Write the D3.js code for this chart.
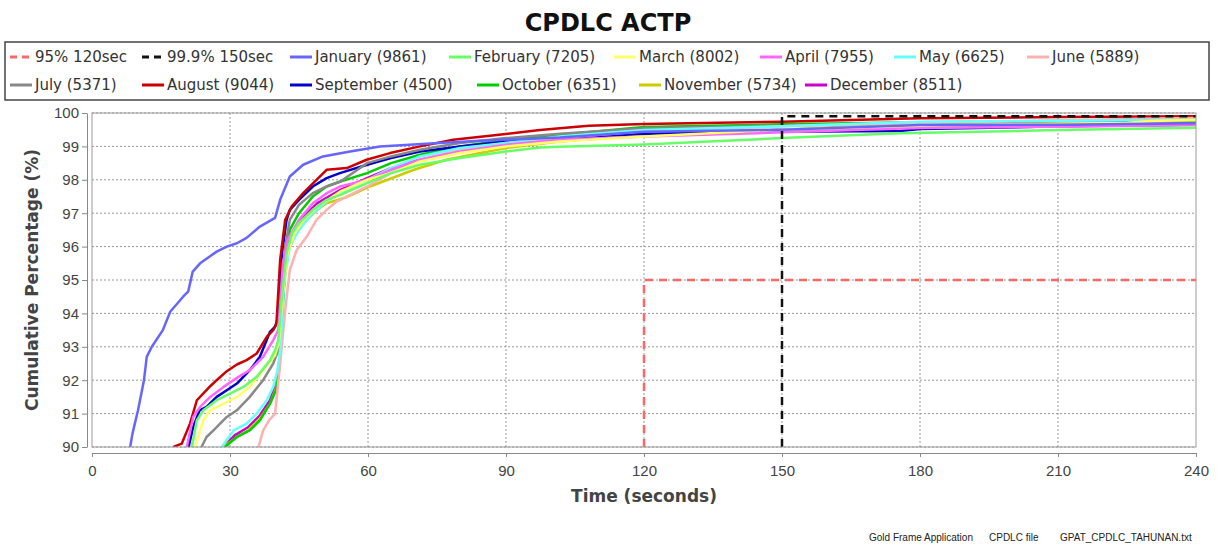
<!DOCTYPE html>
<html lang="en">
<head>
<meta charset="UTF-8">
<title>CPDLC ACTP</title>
<script src="https://cdn.jsdelivr.net/npm/d3@7/dist/d3.min.js"></script>
<style>
  body { margin: 0; background: #fff; }
  svg { font-family: "DejaVu Sans", sans-serif; }
  .tick text { fill: #444; font-size: 15px; }
  .axis path, .axis line { stroke: #888; }
  .grid line { stroke: #999; stroke-dasharray: 2,2; }
</style>
</head>
<body>
<svg id="chart" width="1217" height="546"></svg>
<script>
// cumulative curves, [seconds, percent]
const january = [[8.3,90],[8.8,90.4],[10,91.1],[11.3,92.0],[11.9,92.7],[13,93.0],[15.4,93.5],[17,94.05],[19.8,94.5],[20.9,94.65],[21.9,95.25],[23.5,95.5],[27.1,95.85],[29.3,96.0],[31.5,96.1],[33.6,96.26],[36.5,96.6],[39.8,96.86],[40.9,97.4],[43,98.1],[45.9,98.45],[50.2,98.7],[56.1,98.85],[62.6,99.0],[73.5,99.09],[84.3,99.17],[91.5,99.21],[101.7,99.27],[120,99.44],[150,99.5],[180,99.64],[210,99.65],[240,99.69]];
const february = [[21.7,90],[22.8,90.8],[24.2,91.1],[27.1,91.4],[30,91.6],[32.9,91.8],[35.8,92.1],[38.7,92.6],[39.8,92.9],[40.5,93.2],[41.3,94.5],[42.3,95.8],[43.5,96.4],[45,96.7],[48,97.1],[51,97.4],[54,97.55],[59.8,97.9],[65,98.2],[71.3,98.45],[80,98.65],[90,98.85],[97.4,98.97],[101.7,98.99],[120,99.06],[150,99.25],[175.6,99.39],[210,99.49],[240,99.56]];
const march = [[22.4,90],[24.2,90.8],[25.7,91.1],[28.6,91.3],[31.5,91.5],[34.3,91.8],[37.2,92.3],[39.8,92.75],[40.6,93.1],[41.4,94.5],[42.5,95.8],[44,96.4],[46,96.8],[49,97.2],[54,97.65],[59.8,98.0],[65,98.2],[71.3,98.55],[80,98.8],[90,99.0],[101.7,99.15],[120,99.3],[150,99.5],[180,99.62],[210,99.68],[225,99.7],[230,99.76],[240,99.79]];
const april = [[20.6,90],[22,90.9],[23.5,91.2],[25.7,91.5],[28.6,91.8],[31.5,92.07],[34.3,92.3],[37.2,92.7],[39.4,93.2],[40.5,93.5],[41.5,95.5],[42.5,96.2],[45,96.8],[48,97.3],[51,97.6],[54,97.8],[59.8,98.0],[65,98.3],[71.3,98.6],[80,98.85],[90,99.05],[101.7,99.2],[120,99.3],[150,99.42],[180,99.55],[210,99.59],[240,99.64]];
const may = [[28.2,90],[30.8,90.5],[33.6,90.7],[35.8,91.0],[38,91.4],[39.4,91.8],[40.3,92.3],[41,93.0],[41.8,95.0],[43,96.0],[45,96.5],[48,97.0],[51,97.35],[54,97.6],[59.8,98.0],[65,98.35],[71.3,98.7],[80,98.95],[90,99.1],[101.7,99.3],[120,99.49],[150,99.6],[180,99.74],[210,99.77],[240,99.8]];
const june = [[36.2,90],[37.2,90.5],[38.5,90.8],[39.8,91.0],[40.9,92.5],[42,94.1],[43,95.3],[44.5,95.9],[46.7,96.3],[48.8,96.8],[51,97.1],[53.2,97.35],[59.8,97.8],[65,98.2],[71.3,98.6],[80,98.9],[90,99.1],[101.7,99.25],[120,99.45],[150,99.6],[180,99.7],[210,99.78],[240,99.85]];
const july = [[23.8,90],[24.9,90.3],[26.4,90.5],[29.3,90.9],[31.5,91.1],[34.3,91.5],[37.2,92.0],[39.4,92.5],[40.5,92.9],[41.2,94.5],[42,96.0],[43,96.8],[45,97.25],[48,97.6],[51,97.8],[54,97.95],[59.8,98.5],[65,98.7],[71.3,98.9],[80,99.1],[90,99.25],[101.7,99.38],[120,99.54],[150,99.62],[180,99.72],[210,99.75],[240,99.8]];
const august = [[17.7,90],[19.5,90.1],[21.3,90.7],[22.8,91.4],[25.7,91.82],[27.1,92.0],[29.3,92.27],[31.5,92.47],[33.6,92.6],[35.8,92.8],[38,93.3],[39.4,93.5],[40.1,93.7],[40.9,95.6],[42,96.8],[43.4,97.2],[45.9,97.6],[48.8,98.0],[51,98.3],[55.4,98.35],[59.7,98.6],[64.8,98.8],[71.3,99.0],[78.5,99.2],[88,99.34],[97.4,99.49],[101.7,99.54],[108,99.62],[120,99.67],[150,99.74],[180,99.84],[210,99.88],[240,99.9]];
const september = [[21,90],[22,90.6],[23.4,91.1],[24.9,91.2],[27.1,91.5],[29.3,91.7],[31.5,91.9],[34.3,92.3],[36.5,92.7],[38.7,93.45],[39.8,93.6],[40.5,93.9],[41.3,95.8],[42.3,96.8],[43,97.1],[45,97.4],[48,97.8],[51,98.05],[53.9,98.2],[59.8,98.45],[65,98.65],[71.3,98.85],[80,99.0],[90,99.15],[101.7,99.25],[120,99.38],[150,99.44],[175.6,99.46],[180,99.52],[210,99.6],[240,99.65]];
const october = [[28.9,90],[31.5,90.3],[34.3,90.5],[36.5,90.8],[38.7,91.3],[40,91.7],[40.6,92.2],[41.2,93.5],[42,95.5],[43,96.5],[45,97.0],[48,97.5],[51,97.8],[54,97.95],[59.8,98.2],[65,98.5],[71.3,98.75],[80,99.0],[90,99.2],[101.7,99.35],[120,99.58],[150,99.66],[180,99.72],[210,99.75],[240,99.78]];
const november = [[28.5,90],[31,90.25],[34,90.5],[36.5,90.85],[38.7,91.3],[40,91.75],[40.7,92.5],[41.5,94.5],[42.5,95.8],[44,96.3],[46,96.7],[49,97.1],[51,97.3],[55.4,97.48],[60.4,97.8],[70,98.3],[77,98.6],[90,98.95],[101.7,99.15],[120,99.35],[150,99.5],[180,99.7],[210,99.74],[240,99.77]];
const december = [[28.6,90],[31,90.35],[34,90.6],[36.5,90.95],[38.7,91.4],[40,91.9],[40.8,92.5],[41.5,94.5],[42.5,96.0],[44,96.5],[46,96.9],[49,97.3],[54,97.7],[59.8,98.05],[65,98.35],[71.3,98.6],[80,98.85],[90,99.05],[101.7,99.2],[120,99.32],[150,99.5],[180,99.58],[210,99.62],[240,99.7]];

// requirement lines
const req95 = [[120,90],[120,95],[240,95]];
const req999 = [[150,90],[150,99.9],[240,99.9]];

const seriesNames = ["95% 120sec","99.9% 150sec","January (9861)","February (7205)","March (8002)","April (7955)","May (6625)","June (5889)","July (5371)","August (9044)","September (4500)","October (6351)","November (5734)","December (8511)"];
const seriesData = [req95, req999, january, february, march, april, may, june, july, august, september, october, november, december];
const seriesColors = ["#ff6666","#111111","#6666ff","#66ff66","#ffff66","#ff66ff","#66ffff","#ffb0b0","#888888","#cc0000","#0000cc","#00cc00","#cccc00","#cc00cc"];
const xTicks = [0,30,60,90,120,150,180,210,240];
const yTicks = [90,91,92,93,94,95,96,97,98,99,100];

// legend layout: [row, x of symbol]
const legendPos = [[0,10],[0,142],[0,290],[0,449],[0,614],[0,760],[0,894],[0,1027],
                   [1,10],[1,142],[1,290],[1,477],[1,639],[1,805]];

const svg = d3.select("#chart");
const pLeft = 92, pRight = 1196, pTop = 113, pBottom = 447;

const x = d3.scaleLinear().domain([0, 240]).range([pLeft, pRight]);
const y = d3.scaleLinear().domain([90, 100]).range([pBottom, pTop]);

svg.append("text")
  .attr("x", 608).attr("y", 31)
  .attr("text-anchor", "middle")
  .attr("font-size", 24).attr("font-weight", "bold")
  .attr("fill", "#111")
  .text("CPDLC ACTP");

// legend
svg.append("rect")
  .attr("x", 5).attr("y", 42).attr("width", 1204).attr("height", 58)
  .attr("fill", "none").attr("stroke", "#444").attr("stroke-width", 1.5);

const leg = svg.append("g").selectAll("g")
  .data(seriesNames)
  .join("g")
  .attr("transform", (d, i) => `translate(${legendPos[i][1]},${legendPos[i][0] ? 85 : 57})`);

leg.append("line")
  .attr("x1", 0).attr("x2", 22)
  .attr("stroke", (d, i) => seriesColors[i])
  .attr("stroke-width", 3)
  .attr("stroke-dasharray", (d, i) => i < 2 ? "7,5" : null);

leg.append("text")
  .attr("x", 25).attr("dy", "0.35em")
  .attr("font-size", 15).attr("fill", "#333")
  .text(d => d);

// plot background + grid
svg.append("rect")
  .attr("x", pLeft).attr("y", pTop).attr("width", pRight - pLeft).attr("height", pBottom - pTop)
  .attr("fill", "#fff");

svg.append("g").attr("class", "grid")
  .selectAll("line").data(yTicks).join("line")
  .attr("x1", pLeft).attr("x2", pRight)
  .attr("y1", d => y(d)).attr("y2", d => y(d));

svg.append("g").attr("class", "grid")
  .selectAll("line").data(xTicks.slice(1, -1)).join("line")
  .attr("x1", d => x(d)).attr("x2", d => x(d))
  .attr("y1", pTop).attr("y2", pBottom);

svg.append("defs").append("clipPath").attr("id", "clip")
  .append("rect").attr("x", pLeft).attr("y", pTop - 3)
  .attr("width", pRight - pLeft).attr("height", pBottom - pTop + 3);

const line = d3.line().x(d => x(d[0])).y(d => y(d[1]));

// draw last series first so January and the requirement lines end on top
const order = d3.range(seriesData.length).reverse();
svg.append("g").attr("clip-path", "url(#clip)")
  .selectAll("path").data(order).join("path")
  .attr("d", i => line(seriesData[i]))
  .attr("fill", "none")
  .attr("stroke", i => seriesColors[i])
  .attr("stroke-width", 2.5)
  .attr("stroke-linejoin", "round")
  .attr("stroke-dasharray", i => i < 2 ? "8,6" : null);

svg.append("rect")
  .attr("x", pLeft).attr("y", pTop).attr("width", pRight - pLeft).attr("height", pBottom - pTop)
  .attr("fill", "none").attr("stroke", "#999");

// axes
svg.append("g").attr("class", "axis")
  .attr("transform", `translate(87,0)`)
  .call(d3.axisLeft(y).tickValues(yTicks).tickFormat(d3.format("d")).tickSize(5).tickSizeOuter(0).tickPadding(3));

svg.append("g").attr("class", "axis")
  .attr("transform", `translate(0,453)`)
  .call(d3.axisBottom(x).tickValues(xTicks).tickSize(4).tickSizeOuter(0).tickPadding(8));

svg.append("text")
  .attr("transform", `translate(38,${(pTop + pBottom) / 2}) rotate(-90)`)
  .attr("text-anchor", "middle")
  .attr("font-size", 17).attr("font-weight", "bold").attr("fill", "#444")
  .text("Cumulative Percentage (%)");

svg.append("text")
  .attr("x", (pLeft + pRight) / 2).attr("y", 502)
  .attr("text-anchor", "middle")
  .attr("font-size", 17).attr("font-weight", "bold").attr("fill", "#444")
  .text("Time (seconds)");

// footer
const foot = svg.append("g")
  .attr("font-family", "'Liberation Sans', Arial, sans-serif")
  .attr("font-size", 10).attr("fill", "#222");
foot.append("text").attr("x", 869).attr("y", 541).text("Gold Frame Application");
foot.append("text").attr("x", 989).attr("y", 541).text("CPDLC file");
foot.append("text").attr("x", 1060).attr("y", 541).text("GPAT_CPDLC_TAHUNAN.txt");
</script>
</body>
</html>
